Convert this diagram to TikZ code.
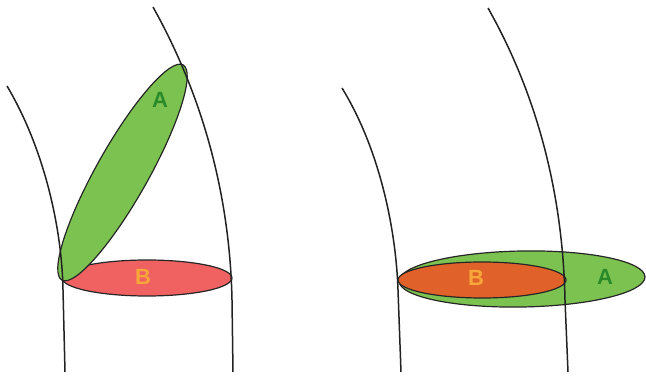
\documentclass[tikz,border=0pt]{standalone}
\usepackage{fontspec}
\setsansfont{Liberation Sans}
\definecolor{lgreen}{HTML}{7CC250}
\definecolor{dgreen}{HTML}{2A8A2A}
\definecolor{lred}{HTML}{F06262}
\definecolor{dorange}{HTML}{E0622A}
\definecolor{lorange}{HTML}{F7A73A}
\definecolor{curvecol}{HTML}{222222}
\begin{document}
\begin{tikzpicture}[x=1pt,y=1pt,
  bone/.style={draw=curvecol,line width=1.5pt},
  blob/.style={draw=black!85,line width=1.2pt},
  lbl/.style={font=\sffamily\bfseries\fontsize{22}{26}\selectfont,inner sep=0pt}]
\useasboundingbox (0,0) rectangle (646,380);
% left panel
\filldraw[blob,fill=lred] (147,102) ellipse [x radius=85, y radius=18];
\filldraw[blob,fill=lgreen,rotate around={60.6:(122.5,207.5)}] (122.5,207.5) ellipse [x radius=123.5, y radius=26];
\draw[bone] (7,294) .. controls (45,230) and (62,150) .. (63,90) -- (65,8);
\draw[bone] (153,373) .. controls (205,280) and (230,180) .. (232,80) -- (233,8);
\node[lbl,text=dgreen] (la) at (160,280) {A};
\node[lbl,text=lorange] (lb) at (143,103) {B};
% right panel
\filldraw[blob,fill=lgreen,rotate around={1:(522,101)}] (522,101) ellipse [x radius=123, y radius=28];
\filldraw[blob,fill=dorange] (482,100) ellipse [x radius=84, y radius=18];
\draw[bone] (342,292) .. controls (380,230) and (396,150) .. (398,90) -- (401,8);
\draw[bone] (488,372) .. controls (540,280) and (563,180) .. (565,80) -- (568,8);
\node[lbl,text=lorange] (rb) at (476,102) {B};
\node[lbl,text=dgreen] (ra) at (605,103) {A};
\end{tikzpicture}
\end{document}
